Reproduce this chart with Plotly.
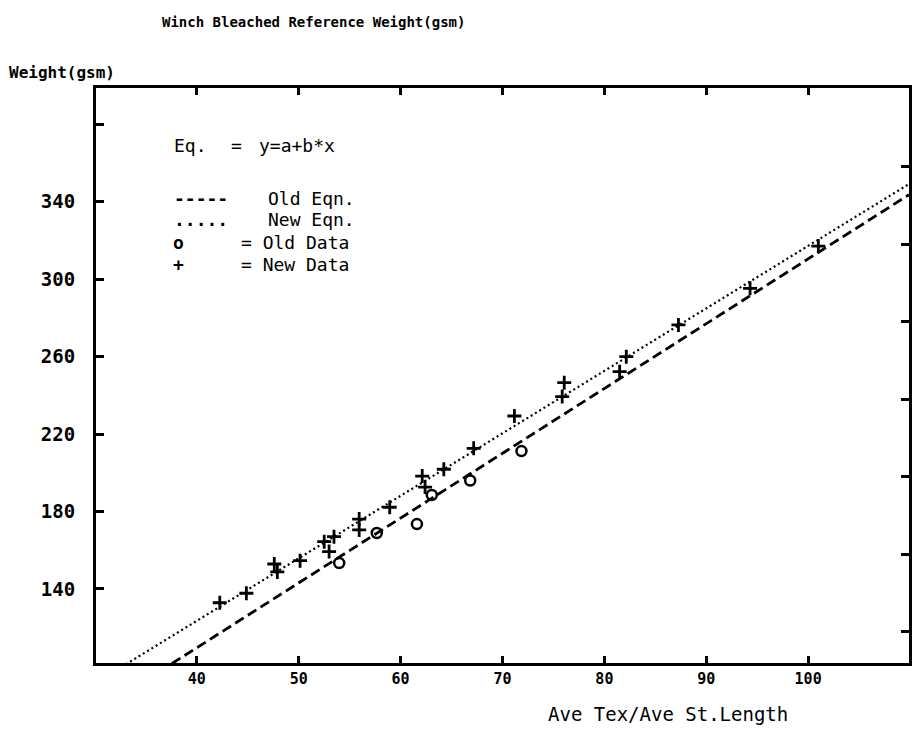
import plotly.graph_objects as go

# ---- data -------------------------------------------------------------
# Old data (open circles)
old_x = [53.97, 57.66, 61.6, 63.06, 66.83, 71.86]
old_y = [153.4, 168.9, 173.5, 188.5, 196.0, 211.2]

# New data (plus marks)
new_x = [42.25, 44.86, 47.6, 47.9, 50.13, 52.5, 52.98, 53.46, 55.93, 55.93,
         58.93, 62.12, 62.4, 64.24, 67.17, 71.17, 76.06, 75.86, 82.15, 81.5,
         87.27, 94.3, 101.0]
new_y = [132.9, 137.8, 152.9, 148.8, 154.6, 164.4, 159.3, 167.0, 176.1, 170.5,
         182.2, 198.3, 192.6, 201.8, 212.6, 229.3, 246.5, 239.3, 259.9, 252.2,
         276.3, 295.2, 317.0]

# Fitted lines y = a + b*x
old_eq = (-24.1, 3.345)   # (a, b)
new_eq = (-5.4, 3.225)

x_ticks = [40, 50, 60, 70, 80, 90, 100]
y_ticks = [140, 180, 220, 260, 300, 340, 380]
y_tick_text = ["140", "180", "220", "260", "300", "340", ""]
y_right_ticks = [118, 158, 198, 238, 278, 318, 358]

x_range = [30.1, 109.9]
y_range = [101.8, 398.6]

# ---- layout helpers ---------------------------------------------------
W, H = 915, 729
L, R, T, B = 96, 912, 88, 663


def px(xp):
    return (xp - L) / (R - L)


def py(yp):
    return (B - yp) / (B - T)


MONO = "DejaVu Sans Mono"

fig = go.Figure()


def eq_line(coef):
    a, b = coef
    xs = list(x_range)
    return xs, [a + b * v for v in xs]


ox, oy = eq_line(old_eq)
nx, ny = eq_line(new_eq)

fig.add_trace(go.Scatter(x=ox, y=oy, mode="lines",
                         line=dict(color="black", width=2.8, dash="10px,5px"),
                         showlegend=False, hoverinfo="skip"))
fig.add_trace(go.Scatter(x=nx, y=ny, mode="lines",
                         line=dict(color="black", width=2.2, dash="2px,3px"),
                         showlegend=False, hoverinfo="skip"))
fig.add_trace(go.Scatter(x=old_x, y=old_y, mode="markers",
                         marker=dict(symbol="circle-open", size=10, color="black",
                                     line=dict(width=2.5, color="black")),
                         showlegend=False))
fig.add_trace(go.Scatter(x=new_x, y=new_y, mode="markers",
                         marker=dict(symbol="cross-thin", size=10, color="black",
                                     line=dict(width=2.8, color="black")),
                         showlegend=False))
# carrier for the right-hand tick axis
fig.add_trace(go.Scatter(x=[], y=[], yaxis="y2", showlegend=False))

annotations = []


def text(s, xp, yp, size, bold=False, anchor="left"):
    annotations.append(dict(
        text=s, x=px(xp), y=py(yp), xref="paper", yref="paper",
        xanchor=anchor, yanchor="middle", showarrow=False,
        font=dict(family=MONO, size=size, color="black",
                  weight="bold" if bold else "normal")))


text("Winch Bleached Reference Weight(gsm)", 160, 22, 14, bold=True)
text("Weight(gsm)", 7, 72, 16, bold=True)
text("Ave Tex/Ave St.Length", 548, 714, 19)

text("Eq.", 172, 145, 18)
text("=", 229, 145, 18)
text("y=a+b*x", 258, 145, 18)
text("-----", 172, 198, 18, bold=True)
text("Old Eqn.", 267, 198, 18)
text(".....", 172, 220, 18, bold=True)
text("New Eqn.", 267, 220, 18)
text("o", 171, 242, 18, bold=True)
text("= Old Data", 240, 242, 18)
text("+", 171, 264, 18, bold=True)
text("= New Data", 240, 264, 18)

fig.update_layout(
    width=W, height=H,
    margin=dict(l=L, r=W - R, t=T, b=H - B, pad=0),
    paper_bgcolor="white", plot_bgcolor="white",
    showlegend=False,
    annotations=annotations,
    xaxis=dict(range=x_range, showgrid=False, zeroline=False,
               showline=True, linecolor="black", linewidth=3, mirror="ticks",
               ticks="inside", ticklen=7, tickwidth=2.5, tickcolor="black",
               tickvals=x_ticks, ticktext=[str(v) for v in x_ticks],
               tickfont=dict(family=MONO, size=15, color="black", weight="bold")),
    yaxis=dict(range=y_range, showgrid=False, zeroline=False,
               showline=True, linecolor="black", linewidth=3, mirror=True,
               ticks="inside", ticklen=8, tickwidth=3, tickcolor="black",
               tickvals=y_ticks, ticktext=y_tick_text, ticklabelstandoff=14,
               tickfont=dict(family=MONO, size=19, color="black", weight="bold")),
    yaxis2=dict(range=y_range, overlaying="y", side="right", showgrid=False,
                zeroline=False, showline=False, ticks="inside", ticklen=8,
                tickwidth=3, tickcolor="black", tickvals=y_right_ticks,
                showticklabels=False),
)

fig.write_html("out.html")
